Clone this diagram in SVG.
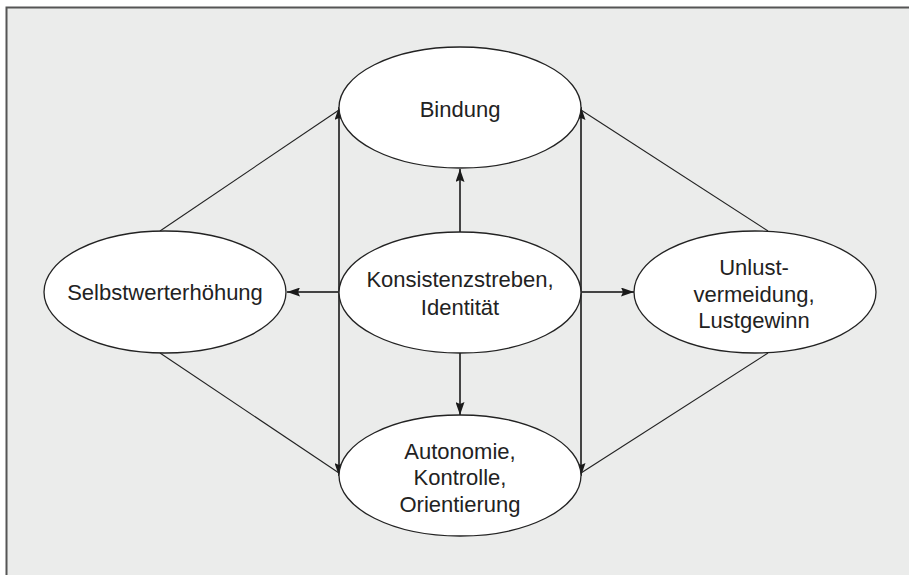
<svg xmlns="http://www.w3.org/2000/svg" width="909" height="575" viewBox="0 0 909 575">
<defs>
<marker id="ah" viewBox="0 0 13 9" refX="13" refY="4.5" markerWidth="13" markerHeight="9" markerUnits="userSpaceOnUse" orient="auto">
<path d="M0,0 L13,4.5 L0,9 L2,4.5 Z" fill="#1a1a1a"/>
</marker>
<style>
.node ellipse{fill:#fff;stroke:#222;stroke-width:1.3}
.node text{font-family:"Liberation Sans",Arial,sans-serif;font-size:22px;fill:#222;text-anchor:middle}
.thick{stroke:#444;stroke-width:2;fill:none}
.thin{stroke:#222;stroke-width:1.1;fill:none}
</style>
</defs>
<rect x="0" y="0" width="909" height="575" fill="#fff"/>
<rect x="6" y="7" width="903" height="568" fill="#ebeceb"/>
<path d="M6.5,575 V7.5 H909" fill="none" stroke="#555" stroke-width="2"/>
<g id="connectors">
<line class="thin" x1="160" y1="231" x2="339" y2="110"/>
<line class="thin" x1="160" y1="353" x2="339" y2="473"/>
<line class="thin" x1="768" y1="231" x2="581" y2="110"/>
<line class="thin" x1="768" y1="353" x2="581" y2="473"/>
<line class="thick" x1="339" y1="290" x2="339" y2="107" marker-end="url(#ah)"/>
<line class="thick" x1="339" y1="290" x2="339" y2="476" marker-end="url(#ah)"/>
<line class="thick" x1="581" y1="290" x2="581" y2="107" marker-end="url(#ah)"/>
<line class="thick" x1="581" y1="290" x2="581" y2="476" marker-end="url(#ah)"/>
<line class="thick" x1="460" y1="232" x2="460" y2="169" marker-end="url(#ah)"/>
<line class="thick" x1="460" y1="353" x2="460" y2="415" marker-end="url(#ah)"/>
<line class="thick" x1="339" y1="292" x2="287" y2="292" marker-end="url(#ah)"/>
<line class="thick" x1="581" y1="292" x2="634" y2="292" marker-end="url(#ah)"/>
</g>
<g id="bindung" class="node">
<ellipse cx="460" cy="107.5" rx="121" ry="60.5"/>
<text x="460" y="117">Bindung</text>
</g>
<g id="konsistenz" class="node">
<ellipse cx="460" cy="292.5" rx="121" ry="60.5"/>
<text x="460" y="287">Konsistenzstreben,</text>
<text x="460" y="315">Identität</text>
</g>
<g id="selbstwert" class="node">
<ellipse cx="165" cy="292" rx="121" ry="61"/>
<text x="165" y="300">Selbstwerterhöhung</text>
</g>
<g id="unlust" class="node">
<ellipse cx="755" cy="292" rx="121" ry="61"/>
<text x="754" y="275">Unlust-</text>
<text x="754" y="302">vermeidung,</text>
<text x="754" y="328">Lustgewinn</text>
</g>
<g id="autonomie" class="node">
<ellipse cx="460" cy="475.5" rx="121" ry="60.5"/>
<text x="460" y="459">Autonomie,</text>
<text x="460" y="485">Kontrolle,</text>
<text x="460" y="512">Orientierung</text>
</g>
</svg>
